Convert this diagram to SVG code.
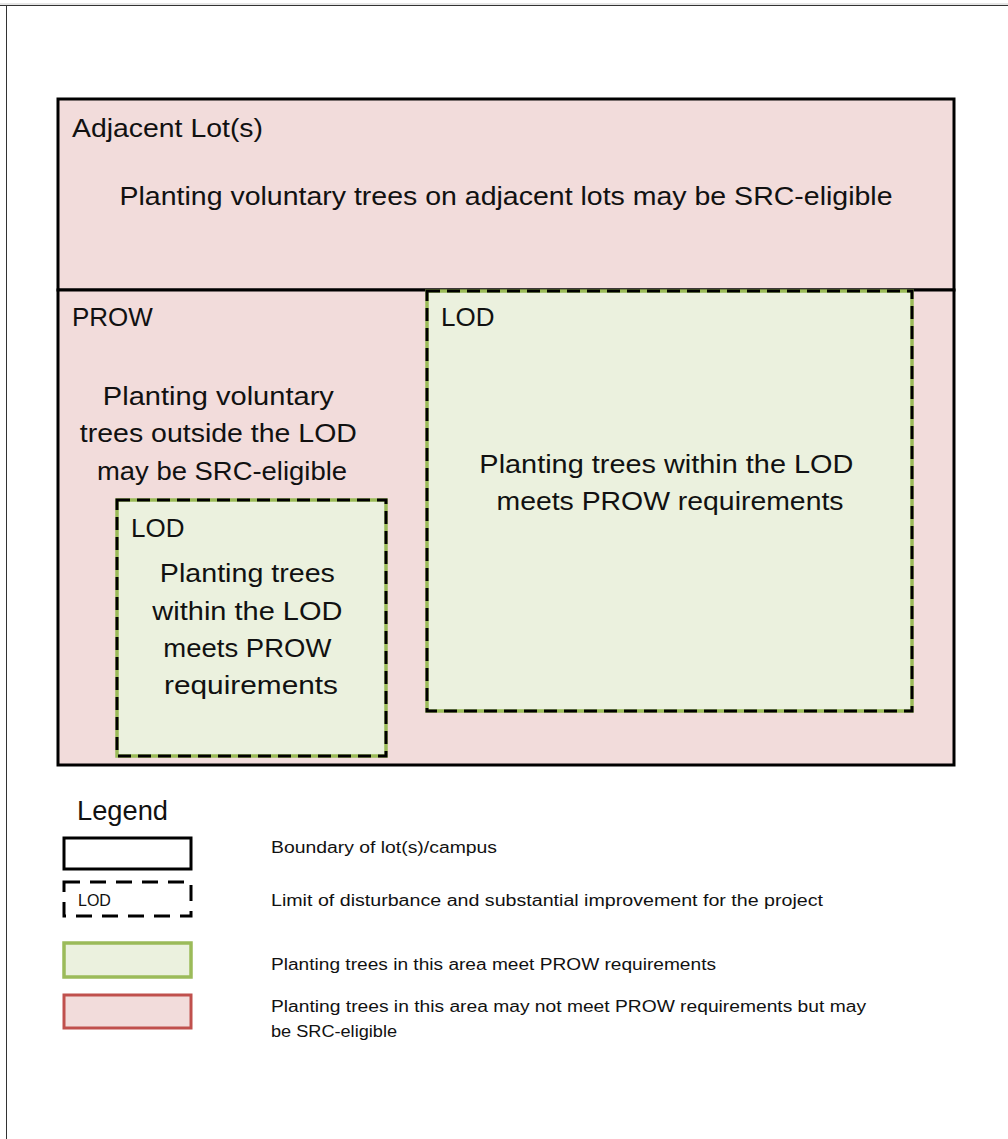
<svg xmlns="http://www.w3.org/2000/svg" width="1008" height="1139" viewBox="0 0 1008 1139">
<style>
.t{font-family:"Liberation Sans",Arial,sans-serif;fill:#111;}
.big{font-size:26px;}
.mid{font-size:24px;}
.lg{font-size:16px;}
.pink{fill:#f2dcdb;}
.green{fill:#ebf1de;stroke:#9bbb59;stroke-width:3.5;}
.dash{fill:none;stroke:#000;stroke-width:3;stroke-dasharray:13 7;}
</style>
<rect width="1008" height="1139" fill="#fff"/>
<g id="frame">
<line x1="0" y1="4" x2="1008" y2="4" stroke="#ccc" stroke-width="1"/>
<line x1="0" y1="5.5" x2="1008" y2="5.5" stroke="#333" stroke-width="1"/>
<line x1="6.5" y1="5" x2="6.5" y2="1139" stroke="#333" stroke-width="1"/>
</g>
<g id="adjacent-lots">
<rect x="58" y="99" width="896" height="191" class="pink" stroke="#000" stroke-width="3"/>
<text x="72" y="137" class="t big" textLength="191" lengthAdjust="spacingAndGlyphs">Adjacent Lot(s)</text>
<text x="506" y="205" class="t big" text-anchor="middle" textLength="773" lengthAdjust="spacingAndGlyphs">Planting voluntary trees on adjacent lots may be SRC-eligible</text>
</g>
<g id="prow">
<rect x="58" y="290" width="896" height="475" class="pink" stroke="#000" stroke-width="3"/>
<text x="72" y="326" class="t big">PROW</text>
<text class="t big" text-anchor="middle">
<tspan x="222" y="405" textLength="231" lengthAdjust="spacingAndGlyphs">Planting voluntary</tspan>
<tspan x="222" y="442" textLength="277" lengthAdjust="spacingAndGlyphs">trees outside the LOD</tspan>
<tspan x="222" y="480" textLength="250" lengthAdjust="spacingAndGlyphs">may be SRC-eligible</tspan>
</text>
</g>
<g id="lod-large">
<rect x="427" y="291" width="485" height="420" class="green"/>
<rect x="427" y="291" width="485" height="420" class="dash"/>
<text x="441" y="326" class="t big">LOD</text>
<text class="t big" text-anchor="middle">
<tspan x="670" y="473" textLength="374" lengthAdjust="spacingAndGlyphs">Planting trees within the LOD</tspan>
<tspan x="670" y="510" textLength="347" lengthAdjust="spacingAndGlyphs">meets PROW requirements</tspan>
</text>
</g>
<g id="lod-small">
<rect x="117" y="500" width="269" height="256" class="green"/>
<rect x="117" y="500" width="269" height="256" class="dash"/>
<text x="131" y="537" class="t big">LOD</text>
<text class="t big" text-anchor="middle">
<tspan x="251" y="582" textLength="175" lengthAdjust="spacingAndGlyphs">Planting trees</tspan>
<tspan x="251" y="620" textLength="190" lengthAdjust="spacingAndGlyphs">within the LOD</tspan>
<tspan x="251" y="657" textLength="168" lengthAdjust="spacingAndGlyphs">meets PROW</tspan>
<tspan x="251" y="694" textLength="174" lengthAdjust="spacingAndGlyphs">requirements</tspan>
</text>
</g>
<g id="legend">
<text x="77" y="820" class="t" font-size="27" textLength="91" lengthAdjust="spacingAndGlyphs">Legend</text>
<rect x="64" y="838" width="127" height="31" fill="#fff" stroke="#000" stroke-width="3"/>
<rect x="64" y="882" width="127" height="34" fill="none" stroke="#000" stroke-width="3" stroke-dasharray="16 10"/>
<text x="78" y="906" class="t" font-size="16">LOD</text>
<rect x="64" y="943" width="127" height="34" class="green" stroke-width="3"/>
<rect x="64" y="995" width="127" height="33" fill="#f2dcdb" stroke="#c0504d" stroke-width="3"/>
<text x="271" y="853" class="t lg" textLength="226" lengthAdjust="spacingAndGlyphs">Boundary of lot(s)/campus</text>
<text x="271" y="906" class="t lg" textLength="552" lengthAdjust="spacingAndGlyphs">Limit of disturbance and substantial improvement for the project</text>
<text x="271" y="970" class="t lg" textLength="445" lengthAdjust="spacingAndGlyphs">Planting trees in this area meet PROW requirements</text>
<text x="271" y="1012" class="t lg" textLength="595" lengthAdjust="spacingAndGlyphs">Planting trees in this area may not meet PROW requirements but may</text>
<text x="271" y="1037" class="t lg" textLength="126" lengthAdjust="spacingAndGlyphs">be SRC-eligible</text>
</g>
</svg>
